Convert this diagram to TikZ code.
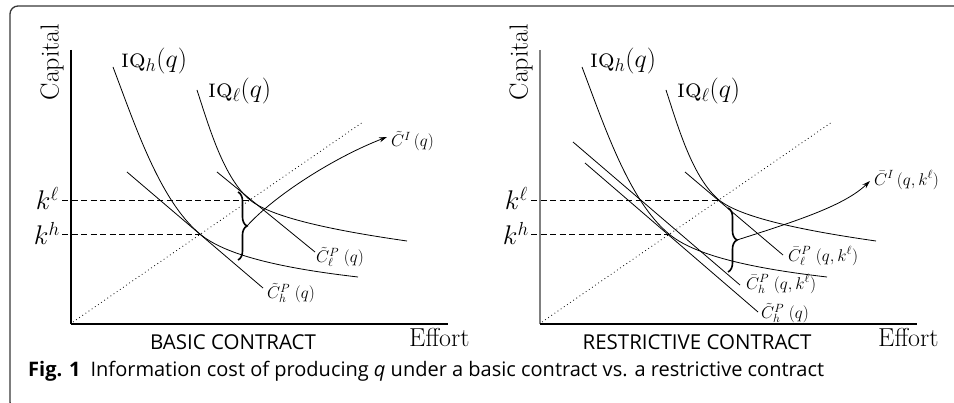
\RequirePackage{fix-cm}
\documentclass[tikz,border=0pt]{standalone}
\usepackage{fontspec}
\newfontfamily\capfont{Open Sans}
\usetikzlibrary{decorations.pathreplacing,arrows.meta}

\newcommand\commonpanel[2]{%
  % #1 = name prefix, #2 = colour of the vertical axis
  \node[biglbl, rotate=90] (#1cap) at (52,62) {Capital};
  \coordinate (#1top) at (71,50);
  \coordinate (#1orig) at (71,324);
  \coordinate (#1xend) at (448,324);
  \draw[axisline, draw=#2] (#1top) -- (#1orig);
  \draw[axisline] (#1orig) -- (#1xend);
  \node[biglbl, anchor=base west] (#1eff) at (409,347) {Effort};
  % dotted diagonal
  \coordinate (#1d0) at (73,322);
  \coordinate (#1d1) at (363,122);
  \draw[dotline] (#1d0) -- (#1d1);
  % isoquants
  \node[biglbl, anchor=base west] (#1iqhl) at (121,68) {\textsc{iq}$_h(q)$};
  \node[biglbl, anchor=base west] (#1iqll) at (208,98) {\textsc{iq}$_\ell(q)$};
  \coordinate (#1th) at (200,234);
  \coordinate (#1tl) at (250,200);
  \draw[curve] (113,67) .. controls (135,125) and (160,201) .. (#1th)
               .. controls (225,255) and (280,268) .. (358,277);
  \draw[curve] (197,90) .. controls (210,130) and (224,178) .. (#1tl)
               .. controls (271,217) and (330,230) .. (407,241);
  % capital levels
  \node[klbl, anchor=base east] (#1kl) at (59,210) {$k^{\ell}$};
  \node[klbl, anchor=base east] (#1kh) at (60,245) {$k^{h}$};
  \coordinate (#1kls) at (62,200);
  \coordinate (#1khs) at (62,234);
  \draw[dashline] (#1kls) -- (#1tl);
  \draw[dashline] (#1khs) -- (#1th);
}

\begin{document}
\begin{tikzpicture}[x=1pt,y=-1pt,
  axisline/.style={line width=1.2pt},
  curve/.style={line width=0.8pt},
  dashline/.style={line width=0.8pt, dash pattern=on 6pt off 3.5pt},
  dotline/.style={line width=0.8pt, dash pattern=on 0.8pt off 3pt},
  biglbl/.style={inner sep=0pt, font=\fontsize{26}{30}\selectfont},
  klbl/.style={inner sep=0pt, font=\fontsize{27}{31}\selectfont},
  small/.style={inner sep=0pt, anchor=west, font=\fontsize{17}{20}\selectfont},
  bracestyle/.style={decorate, decoration={brace, amplitude=9pt}, line width=1.6pt},
  arr/.style={line width=0.8pt, -{Stealth[length=8pt,width=5pt]}},
  frameline/.style={line width=1.3pt, draw=black!78, rounded corners=8pt},
  contract/.style={inner sep=0pt, anchor=base, font=\capfont\fontsize{20.5}{24}\selectfont},
  capt/.style={inner sep=0pt, anchor=base west, font=\capfont\fontsize{20}{24}\selectfont}]
\useasboundingbox (0,0) rectangle (954,403);
\clip (0,0) rectangle (954,403);
\draw[frameline] (970,6) -- (10,6) -- (10,410) -- (40,410);

% ---------------- left panel ----------------
\commonpanel{L}{black}
\coordinate (Lch0) at (127,172);
\coordinate (Lch1) at (263,288);
\draw[curve] (Lch0) -- (Lch1);
\node[small] (Lchlab) at (267,293) {$\tilde{C}^{P}_{h}\;(q)$};
\coordinate (Lcl0) at (217,172);
\coordinate (Lcl1) at (315,252);
\draw[curve] (Lcl0) -- (Lcl1);
\node[small] (Lcllab) at (316,257) {$\tilde{C}^{P}_{\ell}\;(q)$};
\coordinate (Lb0) at (238,192);
\coordinate (Lb1) at (238,260);
\draw[bracestyle] (Lb0) -- (Lb1);
\coordinate (Lbt) at (247,226);
\coordinate (Lci) at (387,137);
\draw[arr] (Lbt) .. controls (275,195) and (335,157) .. (Lci);
\node[small] (Lcilab) at (391,141) {$\tilde{C}^{I}\,(q)$};
\node[contract] (Lcon) at (233,350) {BASIC CONTRACT};

% ---------------- right panel ----------------
\begin{scope}[xshift=469pt]
\commonpanel{R}{black!50}
\end{scope}
\coordinate (Rch0) at (585,163);
\coordinate (Rch1) at (758,312);
\draw[curve] (Rch0) -- (Rch1);
\node[small] (Rchlab) at (761,313) {$\tilde{C}^{P}_{h}\;(q)$};
\coordinate (Rck0) at (573,142);
\coordinate (Rck1) at (740,285);
\draw[curve] (Rck0) -- (Rck1);
\node[small] (Rcklab) at (746,284) {$\bar{C}^{P}_{h}\;(q,k^{\ell})$};
\coordinate (Rcl0) at (685,172);
\coordinate (Rcl1) at (783,255);
\draw[curve] (Rcl0) -- (Rcl1);
\node[small] (Rcllab) at (788,256) {$\bar{C}^{P}_{\ell}\;(q,k^{\ell})$};
\coordinate (Rb0) at (728,208);
\coordinate (Rb1) at (728,272);
\draw[bracestyle] (Rb0) -- (Rb1);
\coordinate (Rbt) at (737,240);
\coordinate (Rci) at (870,181);
\draw[arr] (Rbt) .. controls (800,220) and (845,205) .. (Rci);
\node[small] (Rcilab) at (874,180) {$\bar{C}^{I}\,(q,k^{\ell})$};
\node[contract] (Rcon) at (697,350) {RESTRICTIVE CONTRACT};

% ---------------- caption ----------------
\node[capt] (cap) at (28,376.5) {\textbf{Fig. 1}\enspace Information cost of producing \textit{q} under a basic contract vs. a restrictive contract};
\end{tikzpicture}
\end{document}
